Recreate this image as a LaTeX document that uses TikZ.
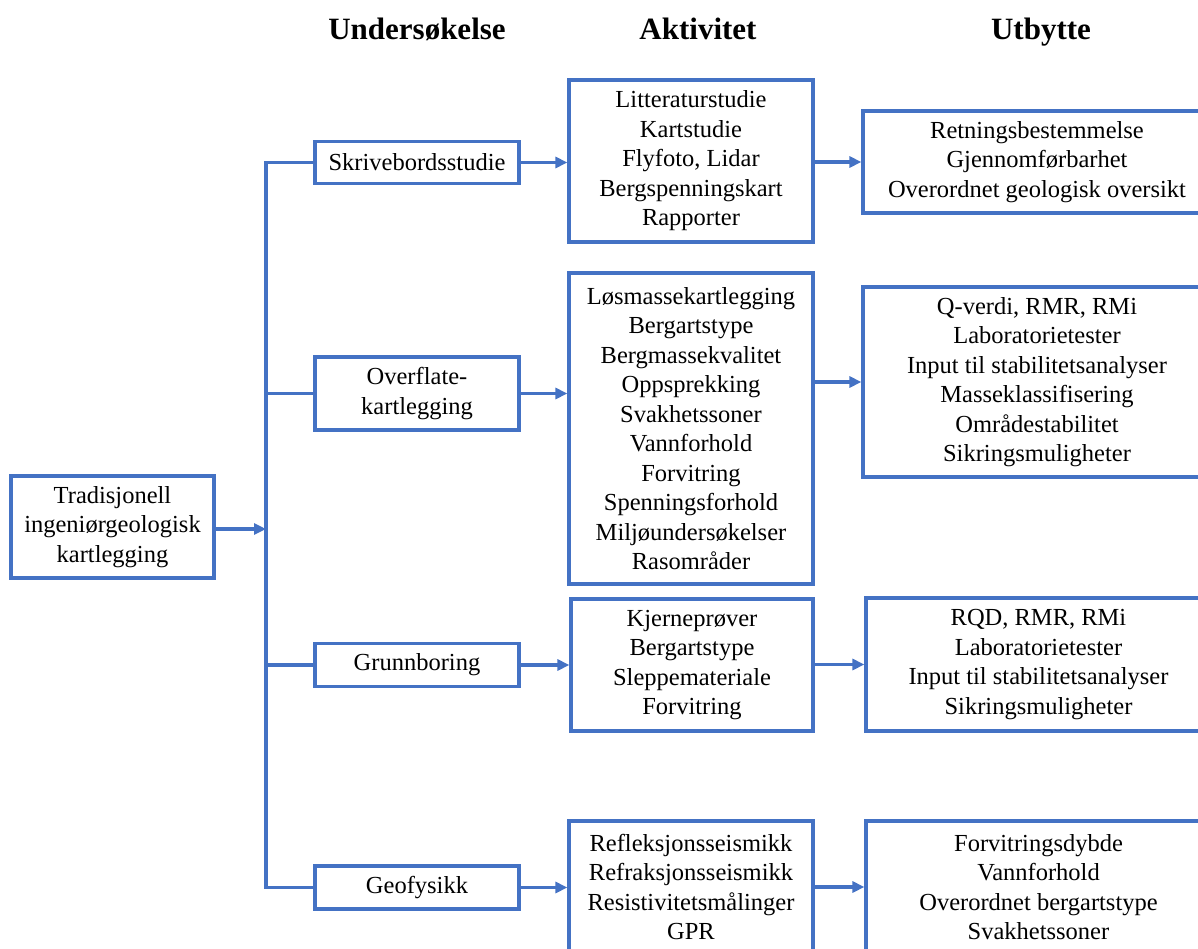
\documentclass[tikz,border=0pt]{standalone}
\usepackage{fontspec}
\setmainfont{Liberation Serif}
\usepackage{xcolor}
\definecolor{Col1}{RGB}{68,114,196}
\usetikzlibrary{arrows.meta}
\tikzstyle{Box}=[draw=Col1,line width=3.2pt,fill=white,inner sep=0pt,
align=center,font=\fontsize{24.5}{29.5}\selectfont]
\tikzstyle{Head}=[anchor=base,font=\fontsize{31}{36}\selectfont\bfseries]
\tikzstyle{Edge}=[draw=Col1,line width=3.2pt]
\tikzstyle{Arrow}=[Edge,-{Triangle[length=12pt,width=11pt]}]
\begin{document}
\begin{tikzpicture}[x=1pt,y=-1pt]
        \useasboundingbox(0,0)rectangle(1198,949);
        \node[Head](h1)at(417,40){Undersøkelse};
        \node[Head](h2)at(698,40){Aktivitet};
        \node[Head](h3)at(1041,40){Utbytte};
        \node[Box,minimum width=203,minimum height=102](T)at(112.5,527)
            {Tradisjonell\\ingeniørgeologisk\\kartlegging};
        \node[Box,minimum width=204,minimum height=42](U1)at(417,162.5)
            {Skrivebordsstudie};
        \node[Box,minimum width=204,minimum height=73](U2)at(417,393.5)
            {Overflate-\\kartlegging};
        \node[Box,minimum width=204,minimum height=43](U3)at(417,665)
            {Grunnboring};
        \node[Box,minimum width=204,minimum height=43](U4)at(417,887.5)
            {Geofysikk};
        \node[Box,minimum width=244,minimum height=162](A1)at(691,161)
            {Litteraturstudie\\Kartstudie\\Flyfoto, Lidar\\
            Bergspenningskart\\Rapporter};
        \node[Box,minimum width=244,minimum height=311](A2)at(691,428.5)
            {Løsmassekartlegging\\Bergartstype\\Bergmassekvalitet\\
            Oppsprekking\\Svakhetssoner\\Vannforhold\\Forvitring\\
            Spenningsforhold\\Miljøundersøkelser\\Rasområder};
        \node[Box,minimum width=242,minimum height=132](A3)at(692,665)
            {Kjerneprøver\\Bergartstype\\Sleppemateriale\\Forvitring};
        \node[Box,minimum width=244,minimum height=132](A4)at(691,887)
            {Refleksjonsseismikk\\Refraksjonsseismikk\\
            Resistivitetsmålinger\\GPR};
        \node[Box,minimum width=348,minimum height=102](R1)at(1037,162)
            {Retningsbestemmelse\\Gjennomførbarhet\\
            Overordnet geologisk oversikt};
        \node[Box,minimum width=348,minimum height=190](R2)at(1037,382)
            {Q-verdi, RMR, RMi\\Laboratorietester\\
            Input til stabilitetsanalyser\\Masseklassifisering\\
            Områdestabilitet\\Sikringsmuligheter};
        \node[Box,minimum width=345,minimum height=133](R3)at(1038.5,664.5)
            {RQD, RMR, RMi\\Laboratorietester\\
            Input til stabilitetsanalyser\\Sikringsmuligheter};
        \node[Box,minimum width=345,minimum height=132](R4)at(1038.5,887)
            {Forvitringsdybde\\Vannforhold\\Overordnet bergartstype\\
            Svakhetssoner};
        \coordinate(jT)at(266,529);
        \coordinate(j2)at(266,393.5);
        \coordinate(j3)at(266,665);
        \coordinate(j4)at(266,887.5);
        \draw[Edge](U1.west)-|(j4)--(U4.west);
        \draw[Edge](j2)--(U2.west);
        \draw[Edge](j3)--(U3.west);
        \draw[Arrow](T.east|-jT)--(jT);
        \draw[Arrow](U1.east)--(U1.east-|A1.west);
        \draw[Arrow](U2.east)--(U2.east-|A2.west);
        \draw[Arrow](U3.east)--(U3.east-|A3.west);
        \draw[Arrow](U4.east)--(U4.east-|A4.west);
        \draw[Arrow](A1.east|-R1.west)--(R1.west);
        \draw[Arrow](A2.east|-R2.west)--(R2.west);
        \draw[Arrow](A3.east|-R3.west)--(R3.west);
        \draw[Arrow](A4.east|-R4.west)--(R4.west);
    \end{tikzpicture}
\end{document}
